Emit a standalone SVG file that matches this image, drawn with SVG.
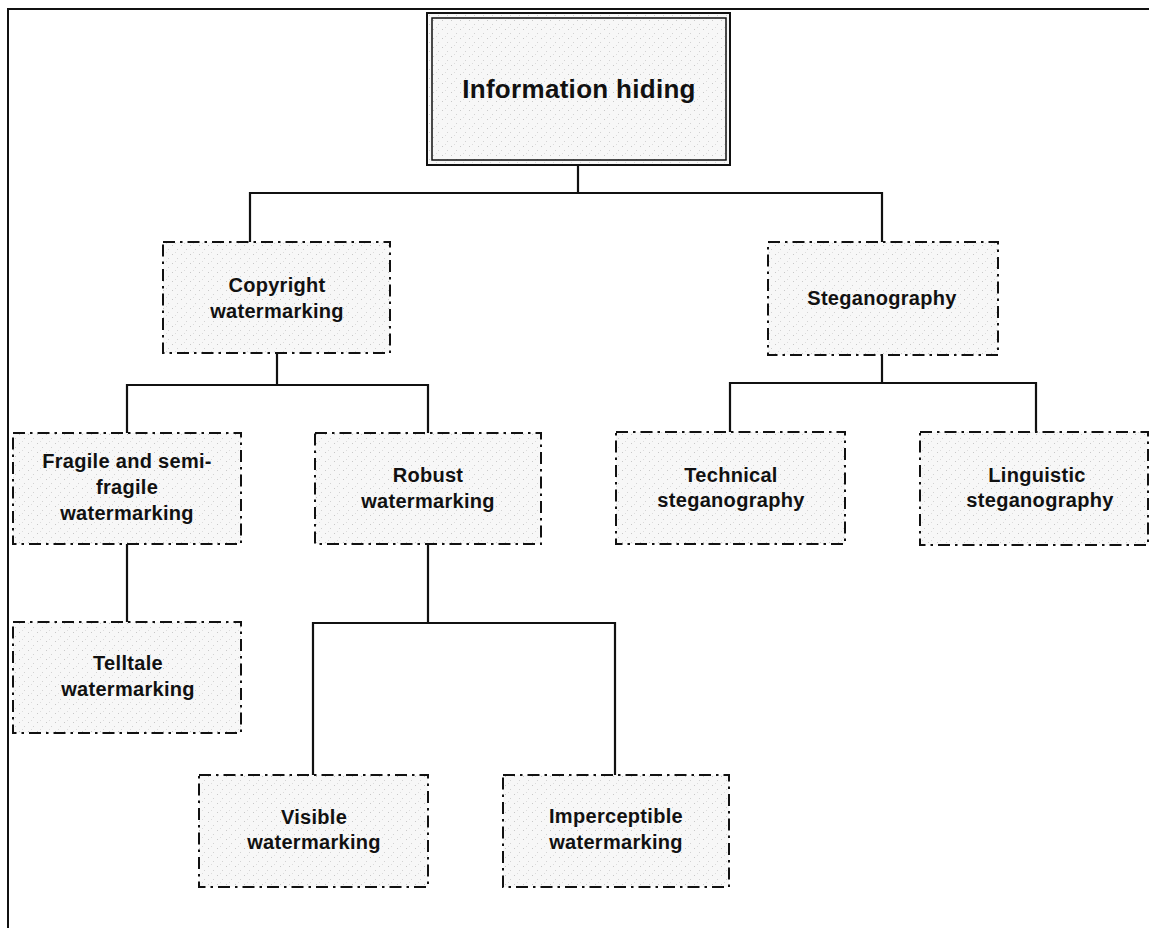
<svg xmlns="http://www.w3.org/2000/svg" width="1149" height="928" viewBox="0 0 1149 928">
  <style>
    .box { fill: url(#stipple); stroke: #111; stroke-width: 2; stroke-dasharray: 12 5 2.5 5; }
    .title-box { fill: url(#stipple); stroke: #111; stroke-width: 2; }
    .lbl { font-family: "Liberation Sans", Arial, Helvetica, sans-serif; font-weight: bold; font-size: 20px; letter-spacing: 0.3px; fill: #111; text-anchor: middle; }
    .title { font-size: 26px; }
    .conn { fill: none; stroke: #111; stroke-width: 2.2; }
    .frame { fill: none; stroke: #111; stroke-width: 2; }
  </style>
  <defs>
    <!-- light speckled fill used inside every box -->
    <pattern id="stipple" width="9" height="9" patternUnits="userSpaceOnUse">
      <rect width="9" height="9" fill="#f7f7f7"/>
      <rect x="1" y="2" width="1" height="1" fill="#c8c8c8"/>
      <rect x="6" y="6" width="1" height="1" fill="#d2d2d2"/>
      <rect x="4" y="0" width="1" height="1" fill="#dcdcdc"/>
    </pattern>
  </defs>

  <rect width="1149" height="928" fill="#ffffff"/>

  <!-- outer frame, open to the right and bottom -->
  <polyline class="frame" points="8,928 8,9 1149,9"/>

  <!-- connectors -->
  <g id="connectors">
    <polyline class="conn" points="578,165 578,193"/>
    <polyline class="conn" points="250,242 250,193 882,193 882,242"/>
    <polyline class="conn" points="277,352 277,385"/>
    <polyline class="conn" points="127,433 127,385 428,385 428,433"/>
    <polyline class="conn" points="882,355 882,383"/>
    <polyline class="conn" points="730,432 730,383 1036,383 1036,432"/>
    <polyline class="conn" points="127,544 127,622"/>
    <polyline class="conn" points="428,544 428,623"/>
    <polyline class="conn" points="313,775 313,623 615,623 615,775"/>
  </g>

  <g id="information-hiding">
    <rect class="title-box" x="427" y="13" width="303" height="152"/>
    <rect fill="none" stroke="#111" stroke-width="1.5" x="432" y="18" width="294" height="142"/>
    <text class="lbl title" x="579" y="98">Information hiding</text>
  </g>

  <g id="copyright-watermarking">
    <rect class="box" x="163" y="242" width="227" height="111"/>
    <text class="lbl" x="277" y="292">Copyright</text>
    <text class="lbl" x="277" y="318">watermarking</text>
  </g>

  <g id="steganography">
    <rect class="box" x="768" y="242" width="230" height="113"/>
    <text class="lbl" x="882" y="305">Steganography</text>
  </g>

  <g id="fragile-watermarking">
    <rect class="box" x="13" y="433" width="228" height="111"/>
    <text class="lbl" x="127" y="468">Fragile and semi-</text>
    <text class="lbl" x="127" y="494">fragile</text>
    <text class="lbl" x="127" y="520">watermarking</text>
  </g>

  <g id="robust-watermarking">
    <rect class="box" x="315" y="433" width="226" height="111"/>
    <text class="lbl" x="428" y="482">Robust</text>
    <text class="lbl" x="428" y="508">watermarking</text>
  </g>

  <g id="technical-steganography">
    <rect class="box" x="616" y="432" width="229" height="112"/>
    <text class="lbl" x="731" y="482">Technical</text>
    <text class="lbl" x="731" y="507">steganography</text>
  </g>

  <g id="linguistic-steganography">
    <rect class="box" x="920" y="432" width="228" height="113"/>
    <text class="lbl" x="1037" y="482">Linguistic</text>
    <text class="lbl" x="1040" y="507">steganography</text>
  </g>

  <g id="telltale-watermarking">
    <rect class="box" x="13" y="622" width="228" height="111"/>
    <text class="lbl" x="128" y="670">Telltale</text>
    <text class="lbl" x="128" y="696">watermarking</text>
  </g>

  <g id="visible-watermarking">
    <rect class="box" x="199" y="775" width="229" height="112"/>
    <text class="lbl" x="314" y="824">Visible</text>
    <text class="lbl" x="314" y="849">watermarking</text>
  </g>

  <g id="imperceptible-watermarking">
    <rect class="box" x="503" y="775" width="226" height="112"/>
    <text class="lbl" x="616" y="823">Imperceptible</text>
    <text class="lbl" x="616" y="849">watermarking</text>
  </g>
</svg>
